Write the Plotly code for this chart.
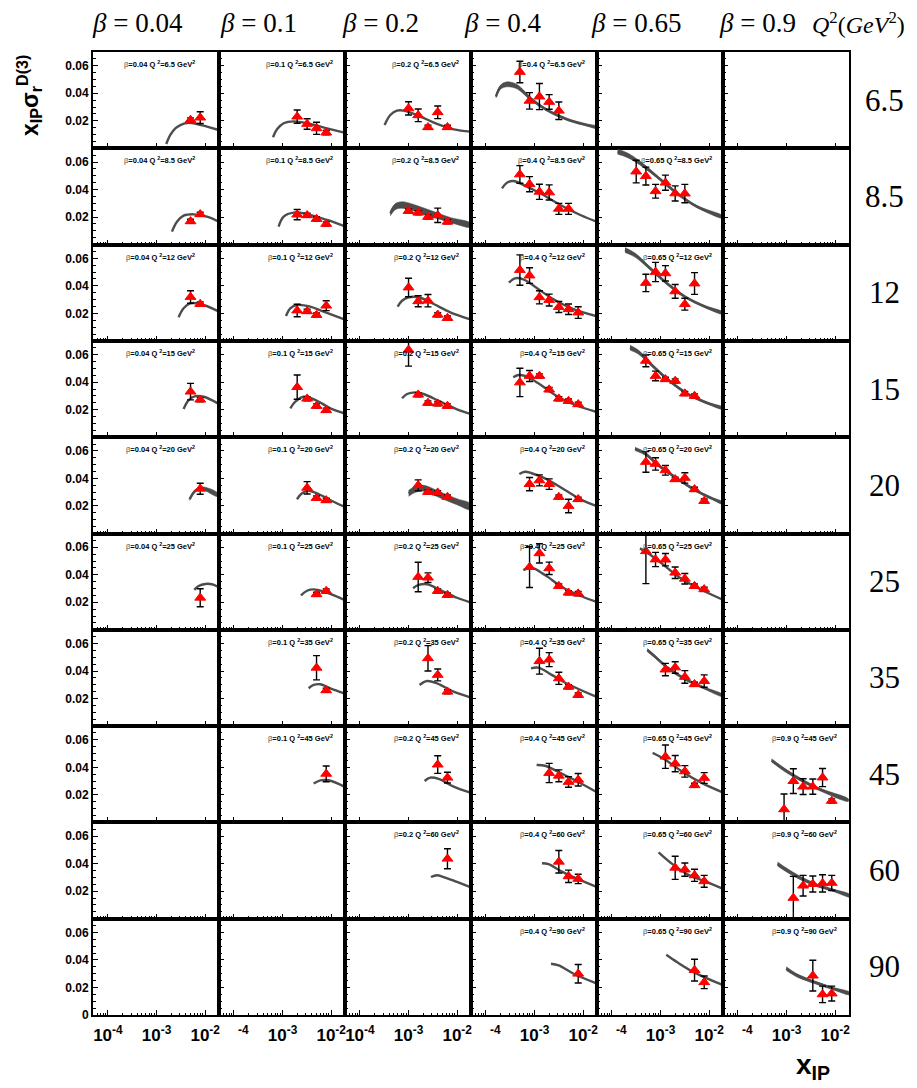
import plotly.graph_objects as go
from plotly.subplots import make_subplots

# Grid categories
BETA_LABELS = ["0.04", "0.1", "0.2", "0.4", "0.65", "0.9"]
Q2_LABELS = ["6.5", "8.5", "12", "15", "20", "25", "35", "45", "60", "90"]

# Measured reduced cross section x_IP * sigma_r^D(3) per (beta, Q^2) bin
xip = {
    ("0.04", "6.5"): [0.005, 0.0079],
    ("0.1", "6.5"): [0.002, 0.0032, 0.005, 0.0079],
    ("0.2", "6.5"): [0.001, 0.00158, 0.00251, 0.00398, 0.00631],
    ("0.4", "6.5"): [0.0005, 0.00079, 0.00126, 0.002, 0.00316],
    ("0.04", "8.5"): [0.005, 0.0079],
    ("0.1", "8.5"): [0.002, 0.0032, 0.005, 0.0079],
    ("0.2", "8.5"): [0.001, 0.00158, 0.00251, 0.00398, 0.00631],
    ("0.4", "8.5"): [0.0005, 0.00079, 0.00126, 0.002, 0.00316, 0.005],
    ("0.65", "8.5"): [0.000316, 0.0005, 0.00079, 0.00126, 0.002, 0.00316],
    ("0.04", "12"): [0.005, 0.0079],
    ("0.1", "12"): [0.002, 0.0032, 0.005, 0.0079],
    ("0.2", "12"): [0.001, 0.00158, 0.00251, 0.00398, 0.00631],
    ("0.4", "12"): [0.0005, 0.00079, 0.00126, 0.002, 0.00316, 0.005, 0.0079],
    ("0.65", "12"): [0.0005, 0.00079, 0.00126, 0.002, 0.00316, 0.005],
    ("0.04", "15"): [0.005, 0.0079],
    ("0.1", "15"): [0.002, 0.0032, 0.005, 0.0079],
    ("0.2", "15"): [0.001, 0.00158, 0.00251, 0.00398, 0.00631],
    ("0.4", "15"): [0.0005, 0.00079, 0.00126, 0.002, 0.00316, 0.005, 0.0079],
    ("0.65", "15"): [0.0005, 0.00079, 0.00126, 0.002, 0.00316, 0.005],
    ("0.04", "20"): [0.0079],
    ("0.1", "20"): [0.0032, 0.005, 0.0079],
    ("0.2", "20"): [0.00158, 0.00251, 0.00398, 0.00631],
    ("0.4", "20"): [0.00079, 0.00126, 0.002, 0.00316, 0.005, 0.0079],
    ("0.65", "20"): [0.0005, 0.00079, 0.00126, 0.002, 0.00316, 0.005, 0.0079],
    ("0.04", "25"): [0.0079],
    ("0.1", "25"): [0.005, 0.0079],
    ("0.2", "25"): [0.00158, 0.00251, 0.00398, 0.00631],
    ("0.4", "25"): [0.00079, 0.00126, 0.002, 0.00316, 0.005, 0.0079],
    ("0.65", "25"): [0.0005, 0.00079, 0.00126, 0.002, 0.00316, 0.005, 0.0079],
    ("0.1", "35"): [0.005, 0.0079],
    ("0.2", "35"): [0.00251, 0.00398, 0.00631],
    ("0.4", "35"): [0.00126, 0.002, 0.00316, 0.005, 0.0079],
    ("0.65", "35"): [0.00126, 0.002, 0.00316, 0.005, 0.0079],
    ("0.1", "45"): [0.0079],
    ("0.2", "45"): [0.00398, 0.00631],
    ("0.4", "45"): [0.002, 0.00316, 0.005, 0.0079],
    ("0.65", "45"): [0.00126, 0.002, 0.00316, 0.005, 0.0079],
    ("0.9", "45"): [0.00089, 0.00138, 0.00219, 0.00347, 0.0055, 0.0085],
    ("0.2", "60"): [0.00631],
    ("0.4", "60"): [0.00316, 0.005, 0.0079],
    ("0.65", "60"): [0.002, 0.00316, 0.005, 0.0079],
    ("0.9", "60"): [0.00138, 0.00219, 0.00347, 0.0055, 0.0085],
    ("0.4", "90"): [0.0079],
    ("0.65", "90"): [0.005, 0.0079],
    ("0.9", "90"): [0.00347, 0.0055, 0.0085],
}

sigma = {
    ("0.04", "6.5"): [0.0206, 0.0223],
    ("0.1", "6.5"): [0.023, 0.0177, 0.0145, 0.0114],
    ("0.2", "6.5"): [0.029, 0.024, 0.0153, 0.0262, 0.0153],
    ("0.4", "6.5"): [0.0555, 0.0345, 0.0376, 0.0337, 0.0273],
    ("0.04", "8.5"): [0.0169, 0.022],
    ("0.1", "8.5"): [0.0218, 0.0213, 0.0186, 0.015],
    ("0.2", "8.5"): [0.0244, 0.0232, 0.0201, 0.0213, 0.0166],
    ("0.4", "8.5"): [0.051, 0.0439, 0.0384, 0.0379, 0.026, 0.026],
    ("0.65", "8.5"): [0.0531, 0.0498, 0.0388, 0.045, 0.0372, 0.0371],
    ("0.04", "12"): [0.0319, 0.0268],
    ("0.1", "12"): [0.0221, 0.0215, 0.0188, 0.0256],
    ("0.2", "12"): [0.0388, 0.0288, 0.0292, 0.019, 0.0166],
    ("0.4", "12"): [0.0515, 0.0475, 0.0317, 0.0297, 0.0246, 0.023, 0.0206],
    ("0.65", "12"): [0.0421, 0.0501, 0.0491, 0.036, 0.0267, 0.0417],
    ("0.04", "15"): [0.0331, 0.0273],
    ("0.1", "15"): [0.0364, 0.028, 0.0227, 0.0196],
    ("0.2", "15"): [0.0635, 0.0309, 0.0249, 0.0244, 0.0227],
    ("0.4", "15"): [0.0398, 0.0445, 0.0445, 0.0346, 0.028, 0.0263, 0.0239],
    ("0.65", "15"): [0.0555, 0.0445, 0.0421, 0.0409, 0.0317, 0.03],
    ("0.04", "20"): [0.0325],
    ("0.1", "20"): [0.0332, 0.0258, 0.0241],
    ("0.2", "20"): [0.035, 0.0302, 0.0297, 0.0265],
    ("0.4", "20"): [0.0359, 0.0386, 0.0359, 0.0265, 0.02, 0.0249],
    ("0.65", "20"): [0.052, 0.0506, 0.0459, 0.0394, 0.0404, 0.0321, 0.0236],
    ("0.04", "25"): [0.0233],
    ("0.1", "25"): [0.0258, 0.0282],
    ("0.2", "25"): [0.0384, 0.0379, 0.0282, 0.0253],
    ("0.4", "25"): [0.0456, 0.0556, 0.0447, 0.0318, 0.027, 0.0263],
    ("0.65", "25"): [0.0571, 0.0511, 0.051, 0.0415, 0.0371, 0.0318, 0.0294],
    ("0.1", "35"): [0.0424, 0.026],
    ("0.2", "35"): [0.0493, 0.0372, 0.025],
    ("0.4", "35"): [0.0472, 0.0483, 0.0347, 0.0286, 0.0226],
    ("0.65", "35"): [0.0411, 0.0426, 0.0357, 0.0304, 0.0327],
    ("0.1", "45"): [0.0353],
    ("0.2", "45"): [0.042, 0.0325],
    ("0.4", "45"): [0.0359, 0.0339, 0.0294, 0.031],
    ("0.65", "45"): [0.0478, 0.0427, 0.0371, 0.027, 0.0323],
    ("0.9", "45"): [0.0095, 0.03, 0.026, 0.026, 0.0326, 0.0156],
    ("0.2", "60"): [0.0436],
    ("0.4", "60"): [0.0414, 0.0308, 0.0289],
    ("0.65", "60"): [0.037, 0.0357, 0.0315, 0.0272],
    ("0.9", "60"): [0.0151, 0.024, 0.0252, 0.0257, 0.026],
    ("0.4", "90"): [0.03],
    ("0.65", "90"): [0.0326, 0.0238],
    ("0.9", "90"): [0.0286, 0.015, 0.0156],
}

sigma_err = {
    ("0.04", "6.5"): [0.0015, 0.0043],
    ("0.1", "6.5"): [0.0048, 0.0038, 0.0044, 0.0015],
    ("0.2", "6.5"): [0.0048, 0.0046, 0.0015, 0.0046, 0.0015],
    ("0.4", "6.5"): [0.0078, 0.006, 0.0095, 0.0053, 0.0064],
    ("0.04", "8.5"): [0.0015, 0.0015],
    ("0.1", "8.5"): [0.0037, 0.0015, 0.0015, 0.0015],
    ("0.2", "8.5"): [0.0015, 0.0015, 0.0015, 0.0052, 0.0015],
    ("0.4", "8.5"): [0.0064, 0.0055, 0.0055, 0.0055, 0.004, 0.004],
    ("0.65", "8.5"): [0.0082, 0.0065, 0.005, 0.0055, 0.0055, 0.0067],
    ("0.04", "12"): [0.0045, 0.0015],
    ("0.1", "12"): [0.0045, 0.0015, 0.0015, 0.0036],
    ("0.2", "12"): [0.0067, 0.004, 0.0045, 0.0015, 0.0015],
    ("0.4", "12"): [0.011, 0.0057, 0.0048, 0.0043, 0.004, 0.0038, 0.0042],
    ("0.65", "12"): [0.0063, 0.007, 0.0056, 0.005, 0.0043, 0.0079],
    ("0.04", "15"): [0.006, 0.0015],
    ("0.1", "15"): [0.0088, 0.0015, 0.0015, 0.0015],
    ("0.2", "15"): [0.0118, 0.0015, 0.0015, 0.0015, 0.0015],
    ("0.4", "15"): [0.0103, 0.004, 0.0015, 0.0015, 0.0015, 0.0015, 0.0015],
    ("0.65", "15"): [0.0043, 0.0035, 0.0015, 0.0015, 0.0015, 0.0015],
    ("0.04", "20"): [0.004],
    ("0.1", "20"): [0.0045, 0.0015, 0.0015],
    ("0.2", "20"): [0.004, 0.0015, 0.0015, 0.0015],
    ("0.4", "20"): [0.0048, 0.004, 0.0038, 0.0015, 0.0049, 0.0015],
    ("0.65", "20"): [0.0075, 0.0045, 0.0035, 0.0015, 0.0038, 0.0015, 0.0015],
    ("0.04", "25"): [0.0065],
    ("0.1", "25"): [0.0015, 0.0015],
    ("0.2", "25"): [0.0107, 0.0035, 0.0015, 0.0015],
    ("0.4", "25"): [0.0148, 0.007, 0.0045, 0.0015, 0.0015, 0.0015],
    ("0.65", "25"): [0.0235, 0.0052, 0.0045, 0.0042, 0.0038, 0.0015, 0.0015],
    ("0.1", "35"): [0.0088, 0.0015],
    ("0.2", "35"): [0.0092, 0.0043, 0.0015],
    ("0.4", "35"): [0.0094, 0.0051, 0.0044, 0.0015, 0.0015],
    ("0.65", "35"): [0.0045, 0.0042, 0.0046, 0.0015, 0.0045],
    ("0.1", "45"): [0.0057],
    ("0.2", "45"): [0.0064, 0.0039],
    ("0.4", "45"): [0.007, 0.0043, 0.0038, 0.0045],
    ("0.65", "45"): [0.0085, 0.0059, 0.0042, 0.0015, 0.0039],
    ("0.9", "45"): [0.0111, 0.009, 0.0057, 0.0055, 0.0066, 0.0015],
    ("0.2", "60"): [0.0073],
    ("0.4", "60"): [0.0082, 0.0045, 0.0034],
    ("0.65", "60"): [0.0084, 0.0048, 0.0044, 0.0043],
    ("0.9", "60"): [0.0157, 0.0075, 0.0058, 0.0063, 0.0055],
    ("0.4", "90"): [0.0067],
    ("0.65", "90"): [0.0079, 0.0046],
    ("0.9", "90"): [0.0112, 0.006, 0.0054],
}

# Model prediction: log10(x_IP) nodes and predicted x_IP * sigma_r^D(3)
curve_log_xip = {
    ("0.04", "6.5"): [-2.80, -2.717, -2.614, -2.51, -2.374, -2.168, -1.963, -1.72],
    ("0.1", "6.5"): [-3.196, -3.114, -2.977, -2.771, -2.497, -2.086, -1.73],
    ("0.2", "6.5"): [-3.492, -3.375, -3.237, -3.1, -2.826, -2.415, -2.07, -1.73],
    ("0.4", "6.5"): [-3.793, -3.704, -3.567, -3.361, -3.087, -2.744, -2.333, -1.922, -1.716],
    ("0.04", "8.5"): [-2.683, -2.58, -2.444, -2.238, -1.963, -1.72],
    ("0.1", "8.5"): [-3.081, -2.977, -2.771, -2.497, -2.086, -1.73],
    ("0.2", "8.5"): [-3.375, -3.272, -3.134, -2.894, -2.553, -2.142, -1.73],
    ("0.4", "8.5"): [-3.669, -3.567, -3.43, -3.224, -2.881, -2.47, -2.059, -1.716],
    ("0.65", "8.5"): [-3.882, -3.689, -3.416, -3.073, -2.662, -2.251, -1.70],
    ("0.04", "12"): [-2.546, -2.444, -2.306, -2.1, -1.737],
    ("0.1", "12"): [-2.929, -2.84, -2.703, -2.43, -2.155, -1.73],
    ("0.2", "12"): [-3.224, -3.134, -2.998, -2.792, -2.484, -2.142, -1.73],
    ("0.4", "12"): [-3.526, -3.402, -3.231, -2.991, -2.648, -2.237, -1.737],
    ("0.65", "12"): [-3.731, -3.525, -3.25, -2.909, -2.497, -2.086, -1.71],
    ("0.04", "15"): [-2.443, -2.34, -2.203, -2.03, -1.737],
    ("0.1", "15"): [-2.84, -2.737, -2.566, -2.292, -2.018, -1.73],
    ("0.2", "15"): [-3.134, -3.031, -2.86, -2.69, -2.347, -2.004, -1.73],
    ("0.4", "15"): [-3.437, -3.334, -3.196, -2.923, -2.579, -2.168, -1.737],
    ("0.65", "15"): [-3.628, -3.457, -3.183, -2.84, -2.429, -2.018, -1.71],
    ("0.04", "20"): [-2.32, -2.203, -2.066, -1.737],
    ("0.1", "20"): [-2.703, -2.6, -2.463, -2.223, -1.949, -1.73],
    ("0.2", "20"): [-2.998, -2.86, -2.69, -2.347, -2.004, -1.73],
    ("0.4", "20"): [-3.313, -3.196, -3.06, -2.786, -2.374, -2.032, -1.737],
    ("0.65", "20"): [-3.525, -3.32, -3.046, -2.703, -2.292, -1.949, -1.71],
    ("0.04", "25"): [-2.224, -2.135, -1.998, -1.86, -1.737],
    ("0.1", "25"): [-2.621, -2.497, -2.36, -2.086, -1.73],
    ("0.2", "25"): [-2.908, -2.792, -2.62, -2.347, -2.004, -1.73],
    ("0.4", "25"): [-3.231, -3.06, -2.786, -2.442, -2.1, -1.737],
    ("0.65", "25"): [-3.423, -3.25, -2.977, -2.635, -2.223, -1.71],
    ("0.1", "35"): [-2.463, -2.36, -2.223, -2.018, -1.73],
    ("0.2", "35"): [-2.773, -2.62, -2.415, -2.072, -1.73],
    ("0.4", "35"): [-3.073, -2.923, -2.648, -2.306, -1.737],
    ("0.65", "35"): [-3.272, -3.114, -2.84, -2.497, -2.086, -1.71],
    ("0.1", "45"): [-2.36, -2.223, -2.052, -1.73],
    ("0.2", "45"): [-2.67, -2.553, -2.382, -2.072, -1.73],
    ("0.4", "45"): [-2.958, -2.786, -2.512, -2.168, -1.737],
    ("0.65", "45"): [-3.163, -2.909, -2.566, -2.155, -1.71],
    ("0.9", "45"): [-3.307, -3.032, -2.69, -2.279, -1.73],
    ("0.2", "60"): [-2.539, -2.416, -2.279, -2.004, -1.73],
    ("0.4", "60"): [-2.847, -2.71, -2.47, -2.127, -1.716],
    ("0.65", "60"): [-3.04, -2.8, -2.457, -2.115, -1.737],
    ("0.9", "60"): [-3.184, -2.992, -2.718, -2.375, -2.032, -1.689],
    ("0.4", "90"): [-2.662, -2.505, -2.196, -1.716],
    ("0.65", "90"): [-2.882, -2.662, -2.32, -1.737],
    ("0.9", "90"): [-3.005, -2.786, -2.443, -2.032, -1.689],
}

curve_sigma = {
    ("0.04", "6.5"): [0.0031, 0.0097, 0.0145, 0.0169, 0.0184, 0.0177, 0.0157, 0.0133],
    ("0.1", "6.5"): [0.008, 0.0138, 0.0182, 0.0196, 0.0182, 0.0145, 0.0114],
    ("0.2", "6.5"): [0.0169, 0.0242, 0.0274, 0.0274, 0.0242, 0.0177, 0.0138, 0.0121],
    ("0.4", "6.5"): [0.0375, 0.0443, 0.0465, 0.0448, 0.0363, 0.0278, 0.0211, 0.0169, 0.0153],
    ("0.04", "8.5"): [0.0094, 0.0166, 0.021, 0.022, 0.0203, 0.0166],
    ("0.1", "8.5"): [0.013, 0.0203, 0.0232, 0.0222, 0.0179, 0.0135],
    ("0.2", "8.5"): [0.0227, 0.0276, 0.0288, 0.0268, 0.0227, 0.0179, 0.0142],
    ("0.4", "8.5"): [0.0409, 0.045, 0.0462, 0.0433, 0.0373, 0.0288, 0.0215, 0.0166],
    ("0.65", "8.5"): [0.0675, 0.0651, 0.0591, 0.0494, 0.0373, 0.0276, 0.0198],
    ("0.04", "12"): [0.0172, 0.0237, 0.0273, 0.0268, 0.0217],
    ("0.1", "12"): [0.0181, 0.0237, 0.0261, 0.0249, 0.0212, 0.0157],
    ("0.2", "12"): [0.0249, 0.0292, 0.0317, 0.0317, 0.0268, 0.0208, 0.0157],
    ("0.4", "12"): [0.0423, 0.0455, 0.0448, 0.0394, 0.031, 0.0237, 0.0181],
    ("0.65", "12"): [0.0661, 0.0624, 0.0539, 0.043, 0.0321, 0.0249, 0.0201],
    ("0.04", "15"): [0.0205, 0.027, 0.0299, 0.0294, 0.0246],
    ("0.1", "15"): [0.021, 0.0258, 0.0294, 0.0265, 0.021, 0.0174],
    ("0.2", "15"): [0.0283, 0.0314, 0.0326, 0.0314, 0.0258, 0.0203, 0.0169],
    ("0.4", "15"): [0.0435, 0.0452, 0.0445, 0.0392, 0.0307, 0.0234, 0.0185],
    ("0.65", "15"): [0.0651, 0.0619, 0.0525, 0.0416, 0.0312, 0.0246, 0.021],
    ("0.04", "20"): [0.0249, 0.0311, 0.0329, 0.028],
    ("0.1", "20"): [0.0249, 0.0292, 0.0311, 0.028, 0.0231, 0.0195],
    ("0.2", "20"): [0.0292, 0.0321, 0.0329, 0.028, 0.0231, 0.0195],
    ("0.4", "20"): [0.0432, 0.0449, 0.0438, 0.0401, 0.0316, 0.0244, 0.02],
    ("0.65", "20"): [0.0615, 0.0581, 0.0496, 0.041, 0.0316, 0.0256, 0.022],
    ("0.04", "25"): [0.029, 0.0318, 0.0333, 0.0331, 0.0313],
    ("0.1", "25"): [0.0251, 0.0284, 0.0294, 0.027, 0.0217],
    ("0.2", "25"): [0.0302, 0.0326, 0.0331, 0.0289, 0.0233, 0.02],
    ("0.4", "25"): [0.0434, 0.0451, 0.0398, 0.0313, 0.0253, 0.0204],
    ("0.65", "25"): [0.0592, 0.0555, 0.0483, 0.0386, 0.0302, 0.0217],
    ("0.1", "35"): [0.0275, 0.0299, 0.0304, 0.0275, 0.0238],
    ("0.2", "35"): [0.0299, 0.0328, 0.0311, 0.025, 0.0209],
    ("0.4", "35"): [0.042, 0.0425, 0.0372, 0.0304, 0.0214],
    ("0.65", "35"): [0.0553, 0.0505, 0.042, 0.0342, 0.0275, 0.0221],
    ("0.1", "45"): [0.0282, 0.0306, 0.0306, 0.026],
    ("0.2", "45"): [0.0301, 0.0325, 0.0316, 0.026, 0.0216],
    ("0.4", "45"): [0.0417, 0.0412, 0.0368, 0.0306, 0.0223],
    ("0.65", "45"): [0.0505, 0.0457, 0.0372, 0.0287, 0.0216],
    ("0.9", "45"): [0.0451, 0.038, 0.0306, 0.0234, 0.0162],
    ("0.2", "60"): [0.0303, 0.0316, 0.0303, 0.0267, 0.023],
    ("0.4", "60"): [0.0403, 0.0396, 0.0348, 0.0291, 0.023],
    ("0.65", "60"): [0.0482, 0.0409, 0.0324, 0.0276, 0.0221],
    ("0.9", "60"): [0.0398, 0.0352, 0.0296, 0.0243, 0.0206, 0.0165],
    ("0.4", "90"): [0.0373, 0.0361, 0.03, 0.0228],
    ("0.65", "90"): [0.0438, 0.0385, 0.0312, 0.022],
    ("0.9", "90"): [0.0337, 0.0288, 0.024, 0.0191, 0.0155],
}

# Half-width of the model uncertainty band where it is wider than the line
curve_halfwidth = {
    ("0.4", "6.5"): [0.0009, 0.0015, 0.0018, 0.0016, 0.0012, 0.0009, 0.0008, 0.0008, 0.0008],
    ("0.2", "8.5"): [0.0018, 0.0022, 0.0024, 0.0024, 0.0022, 0.0018, 0.0015],
    ("0.65", "8.5"): [0.0018, 0.0017, 0.0014, 0.001, 0.0009, 0.0008, 0.0008],
    ("0.65", "12"): [0.0018, 0.0015, 0.0011, 0.0009, 0.0008, 0.0008, 0.0008],
    ("0.65", "15"): [0.0018, 0.0015, 0.0011, 0.0009, 0.0008, 0.0008, 0.0008],
    ("0.04", "20"): [0.0009, 0.0009, 0.0011, 0.0013],
    ("0.2", "20"): [0.0022, 0.0022, 0.0022, 0.0022, 0.0022, 0.0022],
    ("0.65", "20"): [0.0012, 0.0011, 0.0009, 0.0008, 0.0008, 0.0008, 0.0008],
    ("0.65", "35"): [0.0011, 0.001, 0.0009, 0.0008, 0.0008, 0.0008],
    ("0.9", "45"): [0.0012, 0.0012, 0.0011, 0.001, 0.0009],
    ("0.9", "60"): [0.0015, 0.0014, 0.0012, 0.001, 0.0009, 0.0009],
    ("0.9", "90"): [0.0014, 0.0012, 0.001, 0.0009, 0.0009],
}

N_ROWS, N_COLS = len(Q2_LABELS), len(BETA_LABELS)
W, H = 917, 1088
M_L, M_R, M_T, M_B = 93, 68, 52, 73
PW, PH = W - M_L - M_R, H - M_T - M_B
COL_W, ROW_H = PW / N_COLS, PH / N_ROWS
X_RANGE = [-4.306, -1.716]
Y_RANGE = [0, 0.07]
BAND_COLOR = "#4d4d4d"


def px_to_paper_x(px):
    return (px - M_L) / PW


def py_to_paper_y(py):
    return (H - M_B - py) / PH


fig = make_subplots(rows=N_ROWS, cols=N_COLS, horizontal_spacing=0, vertical_spacing=0)

for r, q in enumerate(Q2_LABELS):
    for c, b in enumerate(BETA_LABELS):
        key = (b, q)
        row, col = r + 1, c + 1
        # an empty trace keeps the frame and ticks of panels without data
        fig.add_trace(go.Scatter(x=[None], y=[None], mode="markers",
                                 hoverinfo="skip", showlegend=False),
                      row=row, col=col)
        if key in curve_sigma:
            cx = [10 ** v for v in curve_log_xip[key]]
            cy = curve_sigma[key]
            if key in curve_halfwidth:
                hw = curve_halfwidth[key]
                upper = [y + d for y, d in zip(cy, hw)]
                lower = [y - d for y, d in zip(cy, hw)]
                fig.add_trace(go.Scatter(
                    x=cx + cx[::-1], y=upper + lower[::-1], mode="lines",
                    fill="toself", fillcolor=BAND_COLOR,
                    line=dict(color=BAND_COLOR, width=0.5, shape="spline"),
                    hoverinfo="skip", showlegend=False), row=row, col=col)
            fig.add_trace(go.Scatter(
                x=cx, y=cy, mode="lines",
                line=dict(color=BAND_COLOR, width=2.4, shape="spline"),
                showlegend=False), row=row, col=col)
        if key in sigma:
            fig.add_trace(go.Scatter(
                x=xip[key], y=sigma[key], mode="markers",
                marker=dict(symbol="triangle-up", size=9.5, color="#ff0000",
                            line=dict(color="#ff0000", width=1)),
                error_y=dict(type="data", array=sigma_err[key], color="black",
                             thickness=1.4, width=3.5),
                showlegend=False), row=row, col=col)

minor_x = [k * d for d in (1e-5, 1e-4, 1e-3, 1e-2) for k in range(2, 10)
           if 10 ** X_RANGE[0] < k * d < 10 ** X_RANGE[1]]

fig.update_xaxes(
    type="log", range=X_RANGE, autorange=False, showline=True, mirror=True,
    linecolor="black", linewidth=2, ticks="inside", ticklen=5, tickwidth=1.2,
    tickcolor="black", tickmode="array", tickvals=[1e-4, 1e-3, 1e-2],
    showticklabels=False, showgrid=False, zeroline=False,
    minor=dict(tickmode="array", tickvals=minor_x, ticks="inside", ticklen=2.5,
               tickwidth=1, tickcolor="black", showgrid=False),
)
fig.update_yaxes(
    range=Y_RANGE, autorange=False, showline=True, mirror=True, linecolor="black",
    linewidth=2, ticks="inside", ticklen=5, tickwidth=1.2, tickcolor="black",
    tickmode="array", tickvals=[0.02, 0.04, 0.06], showticklabels=False,
    showgrid=False, zeroline=False,
    minor=dict(dtick=0.005, tick0=0, ticks="inside", ticklen=2.5, tickwidth=1,
               tickcolor="black", showgrid=False),
)

tick_font = dict(family="Liberation Sans, Arial", size=12, color="black", weight="bold")
for r in range(N_ROWS):
    if r == N_ROWS - 1:
        vals, texts = [0, 0.02, 0.04, 0.06], ["0", "0.02", "0.04", "0.06"]
    else:
        vals, texts = [0.02, 0.04, 0.06], ["0.02", "0.04", "0.06"]
    fig.update_yaxes(showticklabels=True, tickvals=vals, ticktext=texts,
                     tickfont=tick_font, row=r + 1, col=1)

for c in range(N_COLS):
    first = "10<sup>-4</sup>" if c in (0, 2) else "<span style='color:white'>10</span><sup>-4</sup>"
    fig.update_xaxes(showticklabels=True, ticklabelstandoff=4,
                     ticktext=[first, "10<sup>-3</sup>", "10<sup>-2</sup>"],
                     tickfont=dict(family="Liberation Sans, Arial", size=17,
                                   color="black", weight="bold"),
                     row=N_ROWS, col=c + 1)

annotations = []

# Per-panel bin labels
label_right = [104, 116, 116, 116, 117, 116]
for r, q in enumerate(Q2_LABELS):
    for c, b in enumerate(BETA_LABELS):
        if (b, q) not in sigma:
            continue
        annotations.append(dict(
            x=px_to_paper_x(M_L + c * COL_W + label_right[c]),
            y=py_to_paper_y(M_T + r * ROW_H + 12),
            xref="paper", yref="paper", xanchor="right", yanchor="middle",
            showarrow=False,
            text=f"<span style='font-weight:normal;color:#444'>β</span>={b} Q <sup>2</sup>={q} GeV<sup>2</sup>",
            font=dict(family="Liberation Sans, Arial", size=7.5, color="black", weight="bold"),
        ))

# Column headers
header_x = [137.5, 258.5, 380, 502, 636, 757.5]
for c, b in enumerate(BETA_LABELS):
    annotations.append(dict(
        x=px_to_paper_x(header_x[c]), y=py_to_paper_y(23), xref="paper", yref="paper",
        xanchor="center", yanchor="middle", showarrow=False,
        text=f"<i>β</i> = {b}",
        font=dict(family="Liberation Serif, Times New Roman", size=27, color="black"),
    ))
annotations.append(dict(
    x=px_to_paper_x(858), y=py_to_paper_y(23), xref="paper", yref="paper",
    xanchor="center", yanchor="middle", showarrow=False,
    text="<i>Q</i><sup>2</sup>(<i>GeV</i><sup>2</sup>)",
    font=dict(family="Liberation Serif, Times New Roman", size=24, color="black"),
))

# Row labels (Q^2 values)
for r, q in enumerate(Q2_LABELS):
    annotations.append(dict(
        x=px_to_paper_x(884), y=py_to_paper_y(M_T + (r + 0.5) * ROW_H),
        xref="paper", yref="paper", xanchor="center", yanchor="middle",
        showarrow=False, text=q,
        font=dict(family="Liberation Serif, Times New Roman", size=31, color="black"),
    ))

# Axis titles
annotations.append(dict(
    x=px_to_paper_x(29), y=py_to_paper_y(96), xref="paper", yref="paper",
    xanchor="center", yanchor="middle", showarrow=False, textangle=-90,
    text="x<sub>IP</sub>σ<sub>r</sub><sup>D(3)</sup>",
    font=dict(family="Liberation Sans, Arial", size=23, color="black", weight="bold"),
))
annotations.append(dict(
    x=px_to_paper_x(813), y=py_to_paper_y(1066), xref="paper", yref="paper",
    xanchor="center", yanchor="middle", showarrow=False,
    text="x<sub>IP</sub>",
    font=dict(family="Liberation Sans, Arial", size=28, color="black", weight="bold"),
))

fig.update_layout(
    width=W, height=H,
    margin=dict(l=M_L, r=M_R, t=M_T, b=M_B),
    paper_bgcolor="white", plot_bgcolor="white",
    showlegend=False, annotations=annotations,
)

fig.write_html("out.html")
